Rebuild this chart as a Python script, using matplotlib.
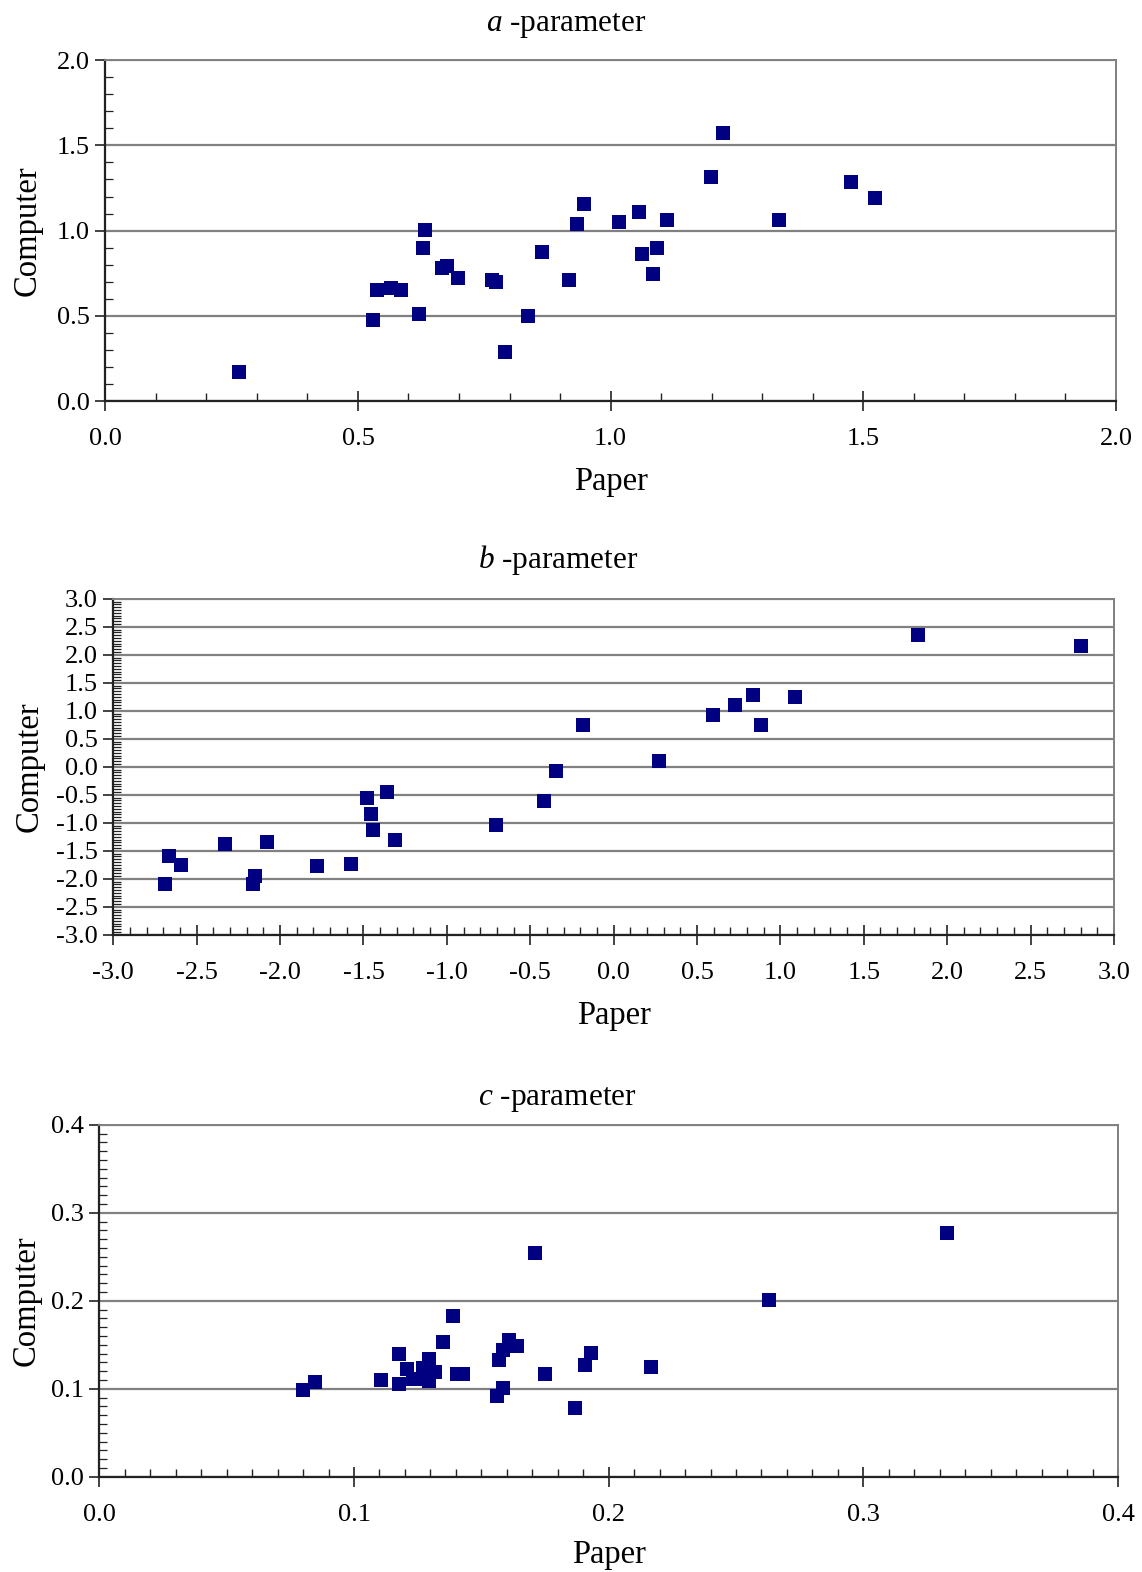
import matplotlib
matplotlib.use("Agg")
import matplotlib.pyplot as plt
from matplotlib.ticker import MultipleLocator, FormatStrFormatter
from matplotlib.transforms import blended_transform_factory

plt.rcParams['font.family'] = ['Liberation Serif', 'DejaVu Serif']
plt.rcParams['mathtext.fontset'] = 'custom'
plt.rcParams['mathtext.rm'] = 'Liberation Serif'
plt.rcParams['mathtext.it'] = 'Liberation Serif:italic'

# a-parameter: paper vs computer estimates
a_paper = [0.264, 0.530, 0.538, 0.565, 0.585, 0.621, 0.629, 0.633, 0.667, 0.677,
           0.698, 0.766, 0.774, 0.790, 0.837, 0.865, 0.917, 0.933, 0.948, 1.016,
           1.056, 1.063, 1.083, 1.091, 1.111, 1.198, 1.222, 1.333, 1.476, 1.524]
a_computer = [0.170, 0.476, 0.653, 0.665, 0.653, 0.512, 0.900, 1.006, 0.782, 0.794,
              0.724, 0.712, 0.700, 0.288, 0.500, 0.876, 0.712, 1.041, 1.159, 1.053,
              1.112, 0.865, 0.747, 0.900, 1.065, 1.312, 1.571, 1.065, 1.288, 1.194]

# b-parameter
b_paper = [-2.689, -2.665, -2.594, -2.330, -2.162, -2.150, -2.078, -1.779, -1.575,
           -1.479, -1.455, -1.443, -1.359, -1.311, -0.703, -0.415, -0.343, -0.186,
           0.270, 0.595, 0.727, 0.835, 0.884, 1.088, 1.828, 2.801]
b_computer = [-2.089, -1.589, -1.755, -1.375, -2.089, -1.946, -1.339, -1.768, -1.732,
              -0.554, -0.839, -1.125, -0.446, -1.304, -1.043, -0.614, -0.077, 0.746,
              0.102, 0.925, 1.105, 1.284, 0.746, 1.248, 2.359, 2.161]

# c-parameter
c_paper = [0.0799, 0.0847, 0.1106, 0.1177, 0.1177, 0.1208, 0.1233, 0.1266, 0.1272,
           0.1295, 0.1295, 0.1318, 0.1348, 0.1388, 0.1403, 0.1427, 0.1562, 0.1568,
           0.1585, 0.1585, 0.1609, 0.1640, 0.1709, 0.1750, 0.1868, 0.1907, 0.1930,
           0.2165, 0.2630, 0.3327]
c_computer = [0.0985, 0.1080, 0.1099, 0.1394, 0.1053, 0.1222, 0.1113, 0.1113, 0.1235,
              0.1333, 0.1083, 0.1195, 0.1530, 0.1825, 0.1170, 0.1170, 0.0917, 0.1326,
              0.1008, 0.1439, 0.1556, 0.1488, 0.2539, 0.1170, 0.0785, 0.1268, 0.1405,
              0.1251, 0.2003, 0.2767]

NAVY = '#000080'
GRID = '#808080'


def style_axis(ax, lim, major, xminor, yminor, xpad, ylab_x):
    ax.set_xlim(*lim)
    ax.set_ylim(*lim)
    ax.xaxis.set_major_locator(MultipleLocator(major))
    ax.yaxis.set_major_locator(MultipleLocator(major))
    ax.xaxis.set_minor_locator(MultipleLocator(xminor))
    ax.yaxis.set_minor_locator(MultipleLocator(yminor))
    ax.xaxis.set_major_formatter(FormatStrFormatter('%.1f'))
    ax.yaxis.set_major_formatter(FormatStrFormatter('%.1f'))
    ax.yaxis.grid(True, which='major', color=GRID, lw=1.6)
    ax.set_axisbelow(True)
    for s in ['top', 'right']:
        ax.spines[s].set_color(GRID)
        ax.spines[s].set_linewidth(1.4)
    for s in ['left', 'bottom']:
        ax.spines[s].set_color('#222222')
        ax.spines[s].set_linewidth(1.6)
    ax.tick_params(axis='x', which='major', direction='inout', length=15, width=1.2,
                   pad=12, labelsize=19, color='#222222')
    ax.tick_params(axis='x', which='minor', direction='in', length=6, width=1.0,
                   color='#222222')
    ax.tick_params(axis='y', which='major', direction='out', length=7, width=1.2,
                   pad=4, labelsize=19, color='#222222')
    ax.tick_params(axis='y', which='minor', direction='in', length=6, width=0.9,
                   color='#222222')
    ax.set_xlabel('Paper', fontsize=23.5, labelpad=xpad)
    ax.set_ylabel('Computer', fontsize=23.5)
    trans = blended_transform_factory(ax.get_figure().transFigure, ax.transAxes)
    ax.yaxis.set_label_coords(ylab_x, 0.5, transform=trans)


fig = plt.figure(figsize=(11.42, 15.72), dpi=100)

ax1 = fig.add_axes([0.0922, 0.7449, 0.8850, 0.2168])
ax1.scatter(a_paper, a_computer, marker='s', s=90, color=NAVY, lw=0, zorder=3)
style_axis(ax1, (0, 2), 0.5, 0.1, 0.1, 12, 0.0375)
fig.text(0.496, 0.9835, r'$\mathit{a}$ -parameter', fontsize=22.5, ha='center', va='center')

ax2 = fig.add_axes([0.0992, 0.4054, 0.8762, 0.2137])
ax2.scatter(b_paper, b_computer, marker='s', s=90, color=NAVY, lw=0, zorder=3)
style_axis(ax2, (-3, 3), 0.5, 0.1, 0.05, 12, 0.0395)
fig.text(0.489, 0.644, r'$\mathit{b}$ -parameter', fontsize=22.5, ha='center', va='center')

ax3 = fig.add_axes([0.0870, 0.0606, 0.8920, 0.2239])
ax3.scatter(c_paper, c_computer, marker='s', s=90, color=NAVY, lw=0, zorder=3)
style_axis(ax3, (0, 0.4), 0.1, 0.01, 0.01, 10, 0.0365)
fig.text(0.488, 0.3005, r'$\mathit{c}$ -parameter', fontsize=22.5, ha='center', va='center')

fig.savefig('out.png', dpi=100)
